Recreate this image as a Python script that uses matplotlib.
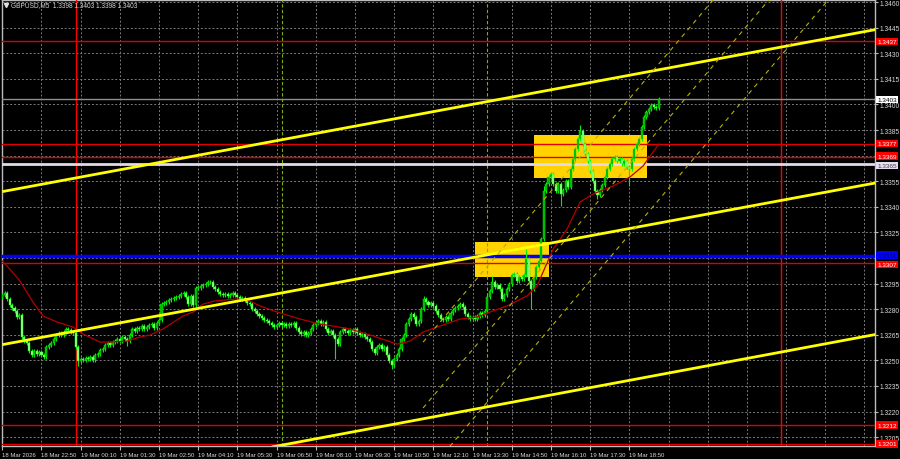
import numpy as np
import matplotlib
matplotlib.use("Agg")
import matplotlib.pyplot as plt
from matplotlib.transforms import blended_transform_factory, offset_copy
from matplotlib.patches import Rectangle
from matplotlib import font_manager

avail = {f.name for f in font_manager.fontManager.ttflist}
narrow = 'Liberation Sans Narrow' if 'Liberation Sans Narrow' in avail else (
    'DejaVu Sans Condensed' if 'DejaVu Sans Condensed' in avail else 'Liberation Sans')
plt.rcParams['font.family'] = [narrow, 'DejaVu Sans']

# ---------------- data ----------------
header_text = "GBPUSD,M5  1.3398 1.3403 1.3398 1.3403"

time_labels = ["18 Mar 2026", "18 Mar 22:50", "19 Mar 00:10", "19 Mar 01:30",
               "19 Mar 02:50", "19 Mar 04:10", "19 Mar 05:30", "19 Mar 06:50",
               "19 Mar 08:10", "19 Mar 09:30", "19 Mar 10:50", "19 Mar 12:10",
               "19 Mar 13:30", "19 Mar 14:50", "19 Mar 16:10", "19 Mar 17:30",
               "19 Mar 18:50"]
bars_per_label = 16          # 80 minutes of M5 bars
n_slots = 356.3              # visible bar slots

price_ticks = [1.3205, 1.3220, 1.3235, 1.3250, 1.3265, 1.3280, 1.3295, 1.3310,
               1.3325, 1.3340, 1.3355, 1.3370, 1.3385, 1.3400, 1.3415, 1.3430,
               1.3445, 1.3460]
hidden_ticks = [1.3310, 1.3370]   # covered by level boxes in the reference
price_min, price_max = 1.31998, 1.34612

first_open = 1.32870
closes = [
    1.32883, 1.32895, 1.32860, 1.32825, 1.32807, 1.32789, 1.32754, 1.32766, 1.32637, 1.32613,
    1.32601, 1.32554, 1.32531, 1.32554, 1.32537, 1.32549, 1.32531, 1.32519, 1.32578, 1.32590,
    1.32601, 1.32625, 1.32648, 1.32660, 1.32648, 1.32666, 1.32684, 1.32678, 1.32666, 1.32660,
    1.32578, 1.32496, 1.32508, 1.32502, 1.32514, 1.32508, 1.32519, 1.32502, 1.32531, 1.32537,
    1.32560, 1.32566, 1.32590, 1.32601, 1.32590, 1.32607, 1.32613, 1.32625, 1.32613, 1.32637,
    1.32625, 1.32613, 1.32648, 1.32684, 1.32672, 1.32689, 1.32684, 1.32701, 1.32684, 1.32695,
    1.32707, 1.32713, 1.32689, 1.32719, 1.32736, 1.32830, 1.32836, 1.32842, 1.32854, 1.32860,
    1.32866, 1.32871, 1.32877, 1.32889, 1.32895, 1.32871, 1.32830, 1.32877, 1.32825, 1.32924,
    1.32924, 1.32936, 1.32941, 1.32947, 1.32959, 1.32959, 1.32930, 1.32918, 1.32900, 1.32889,
    1.32883, 1.32889, 1.32877, 1.32883, 1.32895, 1.32883, 1.32871, 1.32860, 1.32866, 1.32854,
    1.32836, 1.32830, 1.32801, 1.32789, 1.32772, 1.32760, 1.32748, 1.32736, 1.32730, 1.32719,
    1.32707, 1.32695, 1.32707, 1.32719, 1.32707, 1.32713, 1.32701, 1.32713, 1.32707, 1.32719,
    1.32689, 1.32666, 1.32654, 1.32666, 1.32648, 1.32660, 1.32684, 1.32707, 1.32719, 1.32730,
    1.32713, 1.32725, 1.32684, 1.32660, 1.32672, 1.32648, 1.32625, 1.32595, 1.32666, 1.32684,
    1.32672, 1.32660, 1.32678, 1.32666, 1.32684, 1.32660, 1.32648, 1.32654, 1.32637, 1.32625,
    1.32607, 1.32566, 1.32543, 1.32578, 1.32590, 1.32566, 1.32578, 1.32531, 1.32496, 1.32473,
    1.32508, 1.32531, 1.32566, 1.32625, 1.32648, 1.32713, 1.32742, 1.32772, 1.32754, 1.32713,
    1.32730, 1.32801, 1.32860, 1.32842, 1.32825, 1.32836, 1.32819, 1.32789, 1.32766, 1.32742,
    1.32736, 1.32754, 1.32742, 1.32778, 1.32795, 1.32807, 1.32819, 1.32830, 1.32813, 1.32772,
    1.32754, 1.32742, 1.32754, 1.32742, 1.32760, 1.32778, 1.32766, 1.32789, 1.32871, 1.32906,
    1.32959, 1.32930, 1.32941, 1.32918, 1.32860, 1.32883, 1.32918, 1.32947, 1.33000, 1.33006,
    1.32965, 1.32988, 1.32977, 1.33000, 1.33094, 1.32965, 1.32918, 1.32988, 1.33047, 1.33082,
    1.33211, 1.33493, 1.33534, 1.33575, 1.33592, 1.33534, 1.33493, 1.33534, 1.33475, 1.33500,
    1.33551, 1.33516, 1.33621, 1.33680, 1.33739, 1.33797, 1.33844, 1.33768, 1.33709, 1.33668,
    1.33610, 1.33551, 1.33493, 1.33469, 1.33500, 1.33528, 1.33575, 1.33621, 1.33651, 1.33680,
    1.33692, 1.33668, 1.33680, 1.33651, 1.33668, 1.33633, 1.33621, 1.33680, 1.33739, 1.33768,
    1.33797, 1.33868, 1.33926, 1.33956, 1.33973, 1.33997, 1.33985, 1.33980, 1.34030,
]
spike_highs = {65: 1.32842, 85: 1.32965, 172: 1.32877, 200: 1.32994, 214: 1.33152,
               221: 1.33522, 236: 1.33879}
spike_lows = {31: 1.32467, 51: 1.32584, 76: 1.32819, 136: 1.32508, 159: 1.32449,
              216: 1.32801, 228: 1.33404, 243: 1.33445, 256: 1.33522}

ma_bars = [0, 3.1, 7.2, 12.5, 16.6, 22.3, 28.9, 33, 39.9, 44, 50.9, 56.2, 60.3, 65.6,
           73.8, 77.9, 82, 86.8, 95.8, 101.1, 105.2, 112.2, 117.5, 121.6, 129.7, 135,
           141.9, 151.4, 161.2, 166.5, 171.8, 178.7, 186.9, 193.8, 199.1, 206.1, 214.2,
           218.3, 220.8, 224.9, 230.6, 235.9, 241.2, 249.4, 256.3, 261.6, 265.7, 268.1]
ma_vals = [1.33082, 1.33035, 1.32965, 1.32842, 1.32760, 1.32725, 1.32695, 1.32654,
           1.32607, 1.32607, 1.32613, 1.32637, 1.32648, 1.32684, 1.32760, 1.32783,
           1.32830, 1.32848, 1.32860, 1.32848, 1.32819, 1.32783, 1.32760, 1.32742,
           1.32713, 1.32701, 1.32684, 1.32643, 1.32595, 1.32613, 1.32666, 1.32701,
           1.32742, 1.32754, 1.32783, 1.32819, 1.32877, 1.32936, 1.33018, 1.33152,
           1.33270, 1.33428, 1.33475, 1.33522, 1.33575, 1.33639, 1.33721, 1.33768]

red_levels = [1.3437, 1.3377, 1.3369, 1.3307, 1.3212, 1.3201]
white_level = 1.3365
blue_level = 1.3311
bid_level = 1.3403

trend_lines = [((0, 1.33489), (357, 1.34440)),
               ((0, 1.32592), (357, 1.33541)),
               ((110, 1.31992), (357, 1.32653))]
channel_lines = [((171.8, 1.32607), (292, 1.34643)),
                 ((171.8, 1.32221), (315, 1.34647)),
                 ((171.8, 1.31811), (339, 1.34643))]

rectangles = [(193.1, 223.2, 1.32988, 1.33194),
              (217.1, 263.3, 1.33569, 1.33821)]

red_vlines = [30, 318]        # 19 Mar 00:00, 20 Mar 00:00
green_vlines = [114, 198]     # 07:00, 14:00

# ---------------- figure ----------------
W, H = 900, 460
fig = plt.figure(figsize=(W / 100, H / 100), dpi=100, facecolor='black')
ax = fig.add_axes([2 / W, 13 / H, 873 / W, 446 / H], facecolor='black')
ax.set_xlim(-0.12, n_slots)
ax.set_ylim(price_min, price_max)

grid_kw = dict(color='#7a7a7a', lw=0.7, dashes=(2, 2), zorder=1)
for k in range(0, 23):
    ax.axvline(k * bars_per_label, **grid_kw)
for p in price_ticks:
    ax.axhline(p, **grid_kw)

for x0, x1, y0, y1 in rectangles:
    ax.add_patch(Rectangle((x0, y0), x1 - x0, y1 - y0, facecolor='#FFD200',
                           edgecolor='none', zorder=2))

for v in red_vlines:
    ax.axvline(v, color='#ff0000', lw=1.0, zorder=3)
for v in green_vlines:
    ax.axvline(v, color='#7fae10', lw=0.8, dashes=(3, 2), zorder=3)

for lv in red_levels:
    ax.axhline(lv, color='#e00000', lw=1.0, zorder=3)
ax.axhline(bid_level, color='#8c8c8c', lw=1.0, zorder=3)
ax.axhline(white_level, color='#e6d8ea', lw=2.0, zorder=3)
ax.axhline(blue_level, color='#0000ff', lw=2.5, zorder=3)

# candles
closes_a = np.array(closes)
opens_a = np.concatenate([[first_open], closes_a[:-1]])
idx = np.arange(len(closes_a))
wick = 0.00013
highs = np.maximum(opens_a, closes_a) + wick
lows = np.minimum(opens_a, closes_a) - wick
for b, v in spike_highs.items():
    highs[b] = max(highs[b], v)
for b, v in spike_lows.items():
    lows[b] = min(lows[b], v)
ax.vlines(idx, lows, highs, color='#00f000', lw=0.8, zorder=4)
up = closes_a >= opens_a
body = np.abs(closes_a - opens_a)
body = np.where(body < 0.00003, 0.00003, body)
bottoms = np.minimum(opens_a, closes_a)
ax.bar(idx[up], body[up], bottom=bottoms[up], width=0.85, color='#00b000',
       edgecolor='#00ff00', linewidth=0.3, zorder=5)
ax.bar(idx[~up], body[~up], bottom=bottoms[~up], width=0.85, color='#a0ff90',
       edgecolor='#00ff00', linewidth=0.3, zorder=5)

ax.plot(ma_bars, ma_vals, color='#b40000', lw=0.9, zorder=6)

for (x0, y0), (x1, y1) in trend_lines:
    ax.plot([x0, x1], [y0, y1], color='#ffff00', lw=2.0, zorder=7, solid_capstyle='butt')
for (x0, y0), (x1, y1) in channel_lines:
    ax.plot([x0, x1], [y0, y1], color='#b8b000', lw=0.8, dashes=(4, 4), zorder=7)

for s in ax.spines.values():
    s.set_color('#bcbcbc')
    s.set_linewidth(1.0)
ax.yaxis.tick_right()
ax.set_yticks(price_ticks)
ax.set_yticklabels(["" if p in hidden_ticks else f"{p:.4f}" for p in price_ticks])
ax.tick_params(axis='y', colors='#bcbcbc', labelcolor='#d8d8d8', labelsize=4.8,
               length=2, width=0.8, pad=1, direction='out')
xpos = [k * bars_per_label for k in range(len(time_labels))]
ax.set_xticks(xpos)
ax.set_xticklabels(time_labels)
for lbl in ax.get_xticklabels():
    lbl.set_horizontalalignment('left')
ax.tick_params(axis='x', colors='#bcbcbc', labelcolor='#d8d8d8', labelsize=4.3,
               length=3, width=0.8, pad=1.5, direction='out')

tr = blended_transform_factory(ax.transAxes, ax.transData)
def level_label(price, fc, tc, nudge=0.0):
    t = offset_copy(tr, fig=fig, x=0, y=nudge, units='points')
    ax.text(1.0025, price, f"{price:.4f}", transform=t, fontsize=4.6, color=tc,
            va='center', ha='left', zorder=10, clip_on=False,
            bbox=dict(boxstyle='square,pad=0.2', fc=fc, ec='none'))
label_nudges = {1.3369: 0.9, 1.3307: -0.9}
for lv in red_levels:
    level_label(lv, '#ff0000', 'white', label_nudges.get(lv, 0.0))
level_label(white_level, '#e8dcf0', '#404040', -0.9)
level_label(blue_level, '#0000ff', '#000060', 0.9)
level_label(bid_level, 'white', 'black')

ax.plot([0.0045], [0.9888], marker='v', ms=3, color='#e0e0e0', transform=ax.transAxes,
        clip_on=False, zorder=10)
ax.text(0.0103, 0.9888, header_text, transform=ax.transAxes, fontsize=4.7,
        color='#d8d8d8', va='center', ha='left', zorder=10)

fig.savefig("out.png", dpi=100, facecolor='black')
